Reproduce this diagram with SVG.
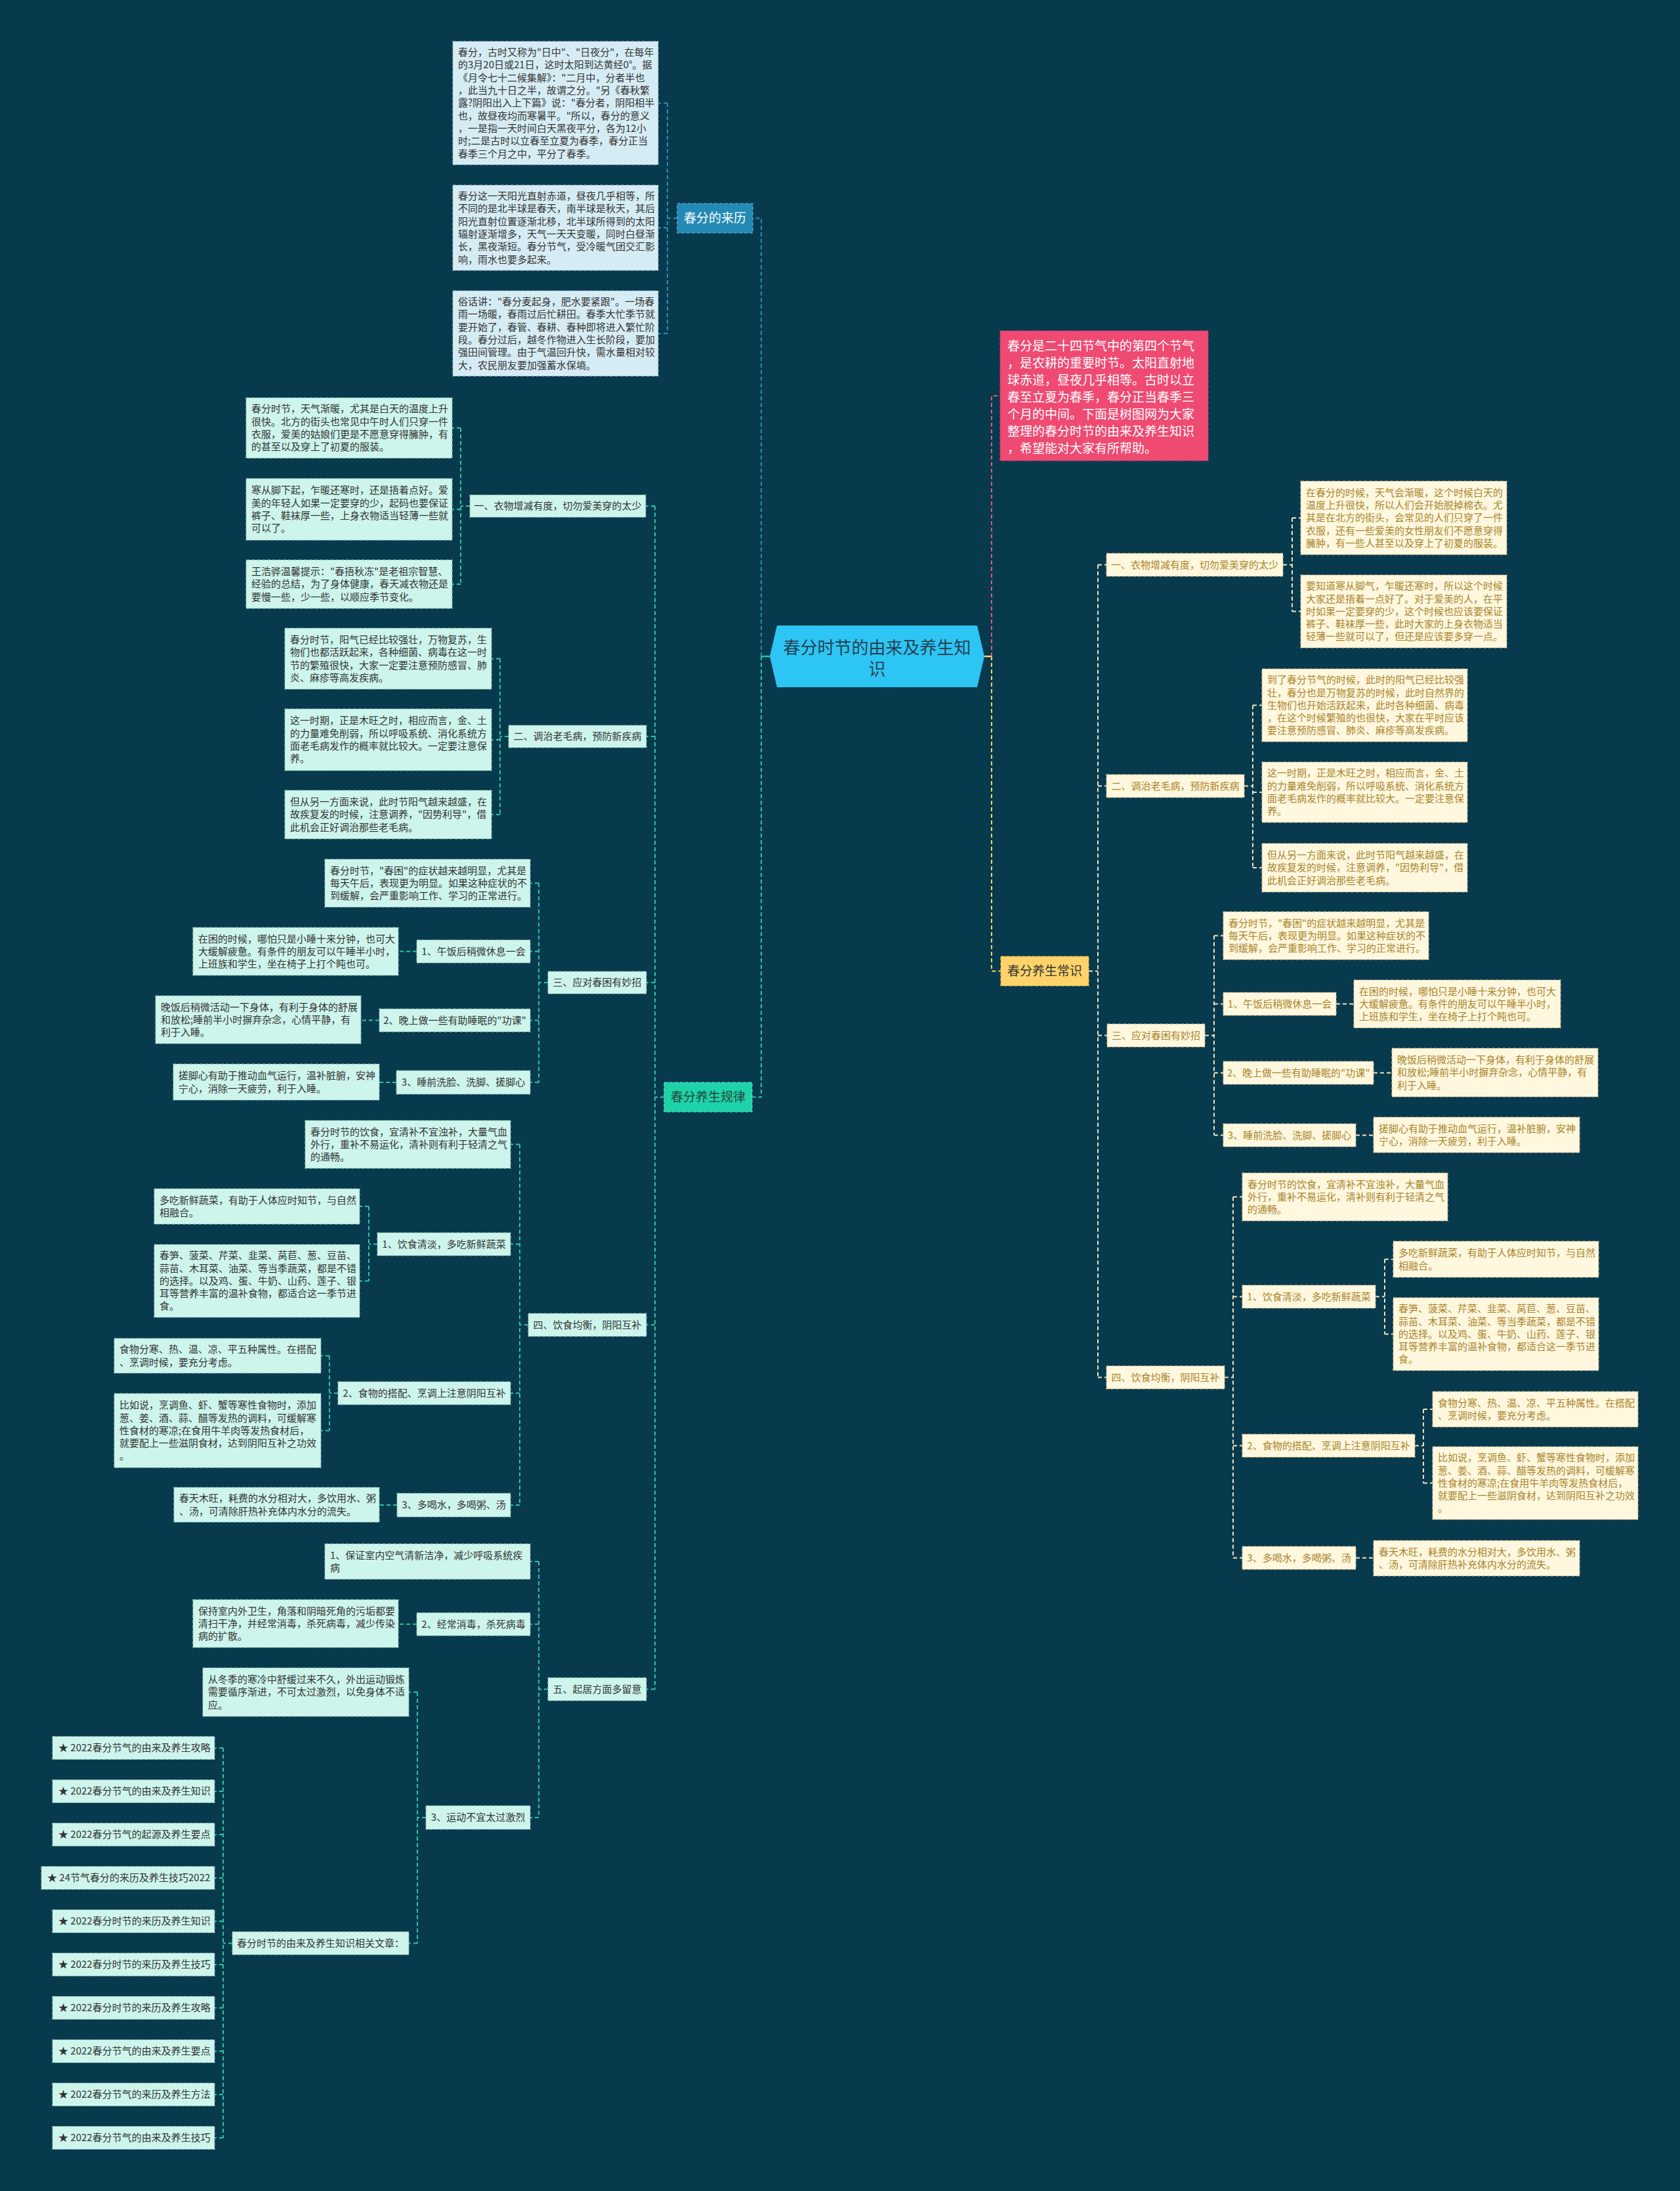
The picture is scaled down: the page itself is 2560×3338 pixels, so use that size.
<svg xmlns="http://www.w3.org/2000/svg" width="2560" height="3338" viewBox="0 0 2560 3338">
<style>
text{font-family:"Noto Sans CJK SC","Noto Sans",sans-serif;font-size:15px}
.dk{fill:#333333}
.gd{fill:#A8842C}
.bl{fill:#D6ECF4;stroke:#93b3bf;stroke-width:1.2;stroke-dasharray:5 3}
.mt{fill:#CDF5EC;stroke:#8cb8ad;stroke-width:1.2;stroke-dasharray:5 3}
.cr{fill:#FFF7DE;stroke:#cbb98a;stroke-width:1.2;stroke-dasharray:5 3}
.mid{text-anchor:middle}
.cb{fill:none;stroke:#2A8DBA;stroke-width:2;stroke-dasharray:6 4}
.cg{fill:none;stroke:#2BC6A2;stroke-width:2;stroke-dasharray:6 4}
.cy{fill:none;stroke:#F1E4BE;stroke-width:2;stroke-dasharray:6 4}
.cp{fill:none;stroke:#E05A82;stroke-width:2;stroke-dasharray:6 4}
.cyy{fill:none;stroke:#FFD36A;stroke-width:2;stroke-dasharray:6 4}
</style>
<rect x="0" y="0" width="2560" height="3338" fill="#083A4E"/>

<g id="connectors">
<path d="M1173 1000 H1160" fill="none" stroke="#2BC6A2" stroke-width="2.5"/>
<path class="cb" d="M1160 1000 V332.5 H1147"/>
<path class="cg" d="M1160 1000 V1671.5 H1146"/>
<path d="M1500 1000 H1511" fill="none" stroke="#FFD36A" stroke-width="2.5"/>
<path class="cp" d="M1511 1000 V603 H1524"/>
<path class="cyy" d="M1511 1000 V1479.5 H1525"/>
<path class="cb" d="M1032 332.5 H1017 M1017 157 V508 M1017 157 H1003 M1017 347 H1003 M1017 508 H1003"/>
<path class="cg" d="M1012 1671.5 H998 M998 771 V2573.5 M998 771 H984 M998 1122 H985 M998 1497 H985 M998 2018.5 H985 M998 2573.5 H985"/>
<path class="cg" d="M716 771 H702 M702 652 V890 M702 652 H689 M702 776 H689 M702 890 H689"/>
<path class="cg" d="M775 1122 H762 M762 1003.5 V1241 M762 1003.5 H749 M762 1127 H749 M762 1241 H749"/>
<path class="cg" d="M835 1497 H821 M821 1345.5 V1649 M821 1345.5 H808 M821 1449.5 H808 M821 1554.5 H808 M821 1649 H808 M635 1449.5 H607 M578 1554.5 H550 M604 1649 H578"/>
<path class="cg" d="M805 2018.5 H792 M792 1743.5 V2293 M792 1743.5 H778 M792 1895.5 H778 M792 2122.5 H778 M792 2293 H778 M575 1895.5 H562 M562 1838 V1951.5 M562 1838 H548 M562 1951.5 H548 M515 2122.5 H502 M502 2065.5 V2179.5 M502 2065.5 H489 M502 2179.5 H489 M605 2293 H578"/>
<path class="cg" d="M835 2573.5 H821 M821 2379 V2769 M821 2379 H808 M821 2474.5 H808 M821 2769 H808 M635 2474.5 H607 M649 2769 H636 M636 2578 V2960.5 M636 2578 H623 M636 2960.5 H623"/>
<path class="cg" d="M354 2960.5 H340 M340 2663 V3257 M340 2663 H327 M340 2729 H327 M340 2795 H327 M340 2861 H327 M340 2927 H327 M340 2993 H327 M340 3059 H327 M340 3125 H327 M340 3191 H327 M340 3257 H327"/>
<path class="cy" d="M1659 1479.5 H1673 M1673 860.5 V2098.5 M1673 860.5 H1686 M1673 1197.5 H1686 M1673 1577.5 H1687 M1673 2098.5 H1686"/>
<path class="cy" d="M1955 860.5 H1969 M1969 789 V931.5 M1969 789 H1982 M1969 931.5 H1982"/>
<path class="cy" d="M1896 1197.5 H1909 M1909 1074.5 V1322 M1909 1074.5 H1923 M1909 1207 H1923 M1909 1322 H1923"/>
<path class="cy" d="M1836 1577.5 H1850 M1850 1425.5 V1729.5 M1850 1425.5 H1864 M1850 1529.5 H1864 M1850 1634.5 H1864 M1850 1729.5 H1864 M2036 1529.5 H2063 M2093 1634.5 H2121 M2066 1729.5 H2093"/>
<path class="cy" d="M1866 2098.5 H1879 M1879 1823.5 V2373.5 M1879 1823.5 H1893 M1879 1975.5 H1893 M1879 2202.5 H1893 M1879 2373.5 H1893 M2096 1975.5 H2110 M2110 1918.5 V2032.5 M2110 1918.5 H2123 M2110 2032.5 H2123 M2156 2202.5 H2169 M2169 2147 V2259.5 M2169 2147 H2183 M2169 2259.5 H2183 M2066 2373.5 H2093"/>
</g>

<g id="center">
<polygon points="1173,1000 1184,953 1489,953 1500,1000 1489,1047 1184,1047" fill="#2DC5F4"/>
<text class="mid" x="1336.5" y="996" style="font-size:26px" fill="#28404f">春分时节的由来及养生知</text>
<text class="mid" x="1336.5" y="1029" style="font-size:26px" fill="#28404f">识</text>
</g>

<g id="intro">
<rect x="1524" y="504" width="317" height="198" fill="#EE4A72" stroke="#c73a62" stroke-width="1.2" stroke-dasharray="5 3"/>
<text x="1535" y="534" style="font-size:19px" fill="#ffffff"><tspan x="1535">春分是二十四节气中的第四个节气</tspan><tspan x="1535" dy="26">，是农耕的重要时节。太阳直射地</tspan><tspan x="1535" dy="26">球赤道，昼夜几乎相等。古时以立</tspan><tspan x="1535" dy="26">春至立夏为春季，春分正当春季三</tspan><tspan x="1535" dy="26">个月的中间。下面是树图网为大家</tspan><tspan x="1535" dy="26">整理的春分时节的由来及养生知识</tspan><tspan x="1535" dy="26">，希望能对大家有所帮助。</tspan></text>
</g>

<g id="laili">
<rect x="1032" y="310" width="115" height="45" fill="#2389B5" stroke="#5fb0d3" stroke-width="1.2" stroke-dasharray="5 3"/>
<text class="mid" x="1089.5" y="339" style="font-size:19px" fill="#ffffff">春分的来历</text>
</g>
<g id="laili-1">
<rect class="bl" x="690" y="63" width="313" height="188"/>
<text class="dk" x="698" y="85.1"><tspan x="698">春分，古时又称为"日中"、"日夜分"，在每年</tspan><tspan x="698" dy="19.3">的3月20日或21日，这时太阳到达黄经0°。据</tspan><tspan x="698" dy="19.3">《月令七十二候集解》："二月中，分者半也</tspan><tspan x="698" dy="19.3">，此当九十日之半，故谓之分。"另《春秋繁</tspan><tspan x="698" dy="19.3">露?阴阳出入上下篇》说："春分者，阴阳相半</tspan><tspan x="698" dy="19.3">也，故昼夜均而寒暑平。"所以，春分的意义</tspan><tspan x="698" dy="19.3">，一是指一天时间白天黑夜平分，各为12小</tspan><tspan x="698" dy="19.3">时;二是古时以立春至立夏为春季，春分正当</tspan><tspan x="698" dy="19.3">春季三个月之中，平分了春季。</tspan></text>
</g>
<g id="laili-2">
<rect class="bl" x="690" y="282" width="313" height="130"/>
<text class="dk" x="698" y="304"><tspan x="698">春分这一天阳光直射赤道，昼夜几乎相等，所</tspan><tspan x="698" dy="19.3">不同的是北半球是春天，南半球是秋天，其后</tspan><tspan x="698" dy="19.3">阳光直射位置逐渐北移，北半球所得到的太阳</tspan><tspan x="698" dy="19.3">辐射逐渐增多，天气一天天变暖，同时白昼渐</tspan><tspan x="698" dy="19.3">长，黑夜渐短。春分节气，受冷暖气团交汇影</tspan><tspan x="698" dy="19.3">响，雨水也要多起来。</tspan></text>
</g>
<g id="laili-3">
<rect class="bl" x="690" y="443" width="313" height="130"/>
<text class="dk" x="698" y="465"><tspan x="698">俗话讲："春分麦起身，肥水要紧跟"。一场春</tspan><tspan x="698" dy="19.3">雨一场暖，春雨过后忙耕田。春季大忙季节就</tspan><tspan x="698" dy="19.3">要开始了，春管、春耕、春种即将进入繁忙阶</tspan><tspan x="698" dy="19.3">段。春分过后，越冬作物进入生长阶段，要加</tspan><tspan x="698" dy="19.3">强田间管理。由于气温回升快，需水量相对较</tspan><tspan x="698" dy="19.3">大，农民朋友要加强蓄水保墒。</tspan></text>
</g>

<g id="guilv">
<rect x="1012" y="1649" width="134" height="45" fill="#1DD3A7" stroke="#5be3c2" stroke-width="1.2" stroke-dasharray="5 3"/>
<text class="mid" x="1079" y="1678" style="font-size:19px" fill="#24453f">春分养生规律</text>
</g>

<g id="L1">
<rect class="mt" x="716" y="754" width="268" height="34"/>
<text class="dk mid" x="850" y="776.3">一、衣物增减有度，切勿爱美穿的太少</text>
</g>
<g id="L1-1">
<rect class="mt" x="375" y="606" width="314" height="92"/>
<text class="dk" x="383" y="628.4"><tspan x="383">春分时节，天气渐暖，尤其是白天的温度上升</tspan><tspan x="383" dy="19.3">很快。北方的街头也常见中午时人们只穿一件</tspan><tspan x="383" dy="19.3">衣服，爱美的姑娘们更是不愿意穿得臃肿，有</tspan><tspan x="383" dy="19.3">的甚至以及穿上了初夏的服装。</tspan></text>
</g>
<g id="L1-2">
<rect class="mt" x="375" y="729" width="314" height="94"/>
<text class="dk" x="383" y="752.4"><tspan x="383">寒从脚下起，乍暖还寒时，还是捂着点好。爱</tspan><tspan x="383" dy="19.3">美的年轻人如果一定要穿的少，起码也要保证</tspan><tspan x="383" dy="19.3">裤子、鞋袜厚一些，上身衣物适当轻薄一些就</tspan><tspan x="383" dy="19.3">可以了。</tspan></text>
</g>
<g id="L1-3">
<rect class="mt" x="375" y="853" width="314" height="74"/>
<text class="dk" x="383" y="876"><tspan x="383">王浩骅温馨提示："春捂秋冻"是老祖宗智慧、</tspan><tspan x="383" dy="19.3">经验的总结，为了身体健康，春天减衣物还是</tspan><tspan x="383" dy="19.3">要慢一些，少一些，以顺应季节变化。</tspan></text>
</g>

<g id="L2">
<rect class="mt" x="775" y="1105" width="210" height="34"/>
<text class="dk mid" x="880" y="1127.3">二、调治老毛病，预防新疾病</text>
</g>
<g id="L2-1">
<rect class="mt" x="434" y="957" width="315" height="93"/>
<text class="dk" x="442" y="979.9"><tspan x="442">春分时节，阳气已经比较强壮，万物复苏，生</tspan><tspan x="442" dy="19.3">物们也都活跃起来，各种细菌、病毒在这一时</tspan><tspan x="442" dy="19.3">节的繁殖很快，大家一定要注意预防感冒、肺</tspan><tspan x="442" dy="19.3">炎、麻疹等高发疾病。</tspan></text>
</g>
<g id="L2-2">
<rect class="mt" x="434" y="1080" width="315" height="94"/>
<text class="dk" x="442" y="1103.4"><tspan x="442">这一时期，正是木旺之时，相应而言，金、土</tspan><tspan x="442" dy="19.3">的力量难免削弱，所以呼吸系统、消化系统方</tspan><tspan x="442" dy="19.3">面老毛病发作的概率就比较大。一定要注意保</tspan><tspan x="442" dy="19.3">养。</tspan></text>
</g>
<g id="L2-3">
<rect class="mt" x="434" y="1204" width="315" height="74"/>
<text class="dk" x="442" y="1227"><tspan x="442">但从另一方面来说，此时节阳气越来越盛，在</tspan><tspan x="442" dy="19.3">故疾复发的时候，注意调养，"因势利导"，借</tspan><tspan x="442" dy="19.3">此机会正好调治那些老毛病。</tspan></text>
</g>

<g id="L3">
<rect class="mt" x="835" y="1480" width="150" height="34"/>
<text class="dk mid" x="910" y="1502.3">三、应对春困有妙招</text>
</g>
<g id="L3-0">
<rect class="mt" x="495" y="1309" width="313" height="73"/>
<text class="dk" x="503" y="1331.5"><tspan x="503">春分时节，"春困"的症状越来越明显，尤其是</tspan><tspan x="503" dy="19.3">每天午后，表现更为明显。如果这种症状的不</tspan><tspan x="503" dy="19.3">到缓解，会严重影响工作、学习的正常进行。</tspan></text>
</g>
<g id="L3-1">
<rect class="mt" x="635" y="1432" width="173" height="35"/>
<text class="dk mid" x="721.5" y="1454.8">1、午饭后稍微休息一会</text>
</g>
<g id="L3-1a">
<rect class="mt" x="294" y="1413" width="313" height="73"/>
<text class="dk" x="302" y="1435.5"><tspan x="302">在困的时候，哪怕只是小睡十来分钟，也可大</tspan><tspan x="302" dy="19.3">大缓解疲惫。有条件的朋友可以午睡半小时，</tspan><tspan x="302" dy="19.3">上班族和学生，坐在椅子上打个盹也可。</tspan></text>
</g>
<g id="L3-2">
<rect class="mt" x="578" y="1537" width="230" height="35"/>
<text class="dk mid" x="693" y="1559.8">2、晚上做一些有助睡眠的"功课"</text>
</g>
<g id="L3-2a">
<rect class="mt" x="237" y="1517" width="313" height="73"/>
<text class="dk" x="245" y="1539.5"><tspan x="245">晚饭后稍微活动一下身体，有利于身体的舒展</tspan><tspan x="245" dy="19.3">和放松;睡前半小时摒弃杂念，心情平静，有</tspan><tspan x="245" dy="19.3">利于入睡。</tspan></text>
</g>
<g id="L3-3">
<rect class="mt" x="604" y="1631" width="204" height="36"/>
<text class="dk mid" x="706" y="1654.3">3、睡前洗脸、洗脚、搓脚心</text>
</g>
<g id="L3-3a">
<rect class="mt" x="264" y="1621" width="314" height="55"/>
<text class="dk" x="272" y="1644.2"><tspan x="272">搓脚心有助于推动血气运行，温补脏腑，安神</tspan><tspan x="272" dy="19.3">宁心，消除一天疲劳，利于入睡。</tspan></text>
</g>

<g id="L4">
<rect class="mt" x="805" y="2001" width="180" height="35"/>
<text class="dk mid" x="895" y="2023.8">四、饮食均衡，阴阳互补</text>
</g>
<g id="L4-0">
<rect class="mt" x="465" y="1707" width="313" height="73"/>
<text class="dk" x="473" y="1729.5"><tspan x="473">春分时节的饮食，宜清补不宜浊补，大量气血</tspan><tspan x="473" dy="19.3">外行，重补不易运化，清补则有利于轻清之气</tspan><tspan x="473" dy="19.3">的通畅。</tspan></text>
</g>
<g id="L4-1">
<rect class="mt" x="575" y="1878" width="203" height="35"/>
<text class="dk mid" x="676.5" y="1900.8">1、饮食清淡，多吃新鲜蔬菜</text>
</g>
<g id="L4-1a">
<rect class="mt" x="235" y="1811" width="313" height="54"/>
<text class="dk" x="243" y="1833.7"><tspan x="243">多吃新鲜蔬菜，有助于人体应时知节，与自然</tspan><tspan x="243" dy="19.3">相融合。</tspan></text>
</g>
<g id="L4-1b">
<rect class="mt" x="235" y="1896" width="313" height="111"/>
<text class="dk" x="243" y="1918.2"><tspan x="243">春笋、菠菜、芹菜、韭菜、莴苣、葱、豆苗、</tspan><tspan x="243" dy="19.3">蒜苗、木耳菜、油菜、等当季蔬菜，都是不错</tspan><tspan x="243" dy="19.3">的选择。以及鸡、蛋、牛奶、山药、莲子、银</tspan><tspan x="243" dy="19.3">耳等营养丰富的温补食物，都适合这一季节进</tspan><tspan x="243" dy="19.3">食。</tspan></text>
</g>
<g id="L4-2">
<rect class="mt" x="515" y="2105" width="263" height="35"/>
<text class="dk mid" x="646.5" y="2127.8">2、食物的搭配、烹调上注意阴阳互补</text>
</g>
<g id="L4-2a">
<rect class="mt" x="174" y="2039" width="315" height="53"/>
<text class="dk" x="182" y="2061.2"><tspan x="182">食物分寒、热、温、凉、平五种属性。在搭配</tspan><tspan x="182" dy="19.3">、烹调时候，要充分考虑。</tspan></text>
</g>
<g id="L4-2b">
<rect class="mt" x="174" y="2123" width="315" height="113"/>
<text class="dk" x="182" y="2146.2"><tspan x="182">比如说，烹调鱼、虾、蟹等寒性食物时，添加</tspan><tspan x="182" dy="19.3">葱、姜、酒、蒜、醋等发热的调料，可缓解寒</tspan><tspan x="182" dy="19.3">性食材的寒凉;在食用牛羊肉等发热食材后，</tspan><tspan x="182" dy="19.3">就要配上一些滋阴食材，达到阴阳互补之功效</tspan><tspan x="182" dy="19.3">。</tspan></text>
</g>
<g id="L4-3">
<rect class="mt" x="605" y="2275" width="173" height="36"/>
<text class="dk mid" x="691.5" y="2298.3">3、多喝水，多喝粥、汤</text>
</g>
<g id="L4-3a">
<rect class="mt" x="265" y="2266" width="313" height="53"/>
<text class="dk" x="273" y="2288.2"><tspan x="273">春天木旺，耗费的水分相对大，多饮用水、粥</tspan><tspan x="273" dy="19.3">、汤，可清除肝热补充体内水分的流失。</tspan></text>
</g>

<g id="L5">
<rect class="mt" x="835" y="2556" width="150" height="35"/>
<text class="dk mid" x="910" y="2578.8">五、起居方面多留意</text>
</g>
<g id="L5-1">
<rect class="mt" x="495" y="2352" width="313" height="54"/>
<text class="dk" x="503" y="2374.7"><tspan x="503">1、保证室内空气清新洁净，减少呼吸系统疾</tspan><tspan x="503" dy="19.3">病</tspan></text>
</g>
<g id="L5-2">
<rect class="mt" x="635" y="2457" width="173" height="35"/>
<text class="dk mid" x="721.5" y="2479.8">2、经常消毒，杀死病毒</text>
</g>
<g id="L5-2a">
<rect class="mt" x="294" y="2437" width="313" height="73"/>
<text class="dk" x="302" y="2459.5"><tspan x="302">保持室内外卫生，角落和阴暗死角的污垢都要</tspan><tspan x="302" dy="19.3">清扫干净，并经常消毒，杀死病毒，减少传染</tspan><tspan x="302" dy="19.3">病的扩散。</tspan></text>
</g>
<g id="L5-3">
<rect class="mt" x="649" y="2751" width="159" height="36"/>
<text class="dk mid" x="728.5" y="2774.3">3、运动不宜太过激烈</text>
</g>
<g id="L5-3a">
<rect class="mt" x="309" y="2541" width="314" height="74"/>
<text class="dk" x="317" y="2564"><tspan x="317">从冬季的寒冷中舒缓过来不久，外出运动锻炼</tspan><tspan x="317" dy="19.3">需要循序渐进，不可太过激烈，以免身体不适</tspan><tspan x="317" dy="19.3">应。</tspan></text>
</g>
<g id="related">
<rect class="mt" x="354" y="2943" width="269" height="35"/>
<text class="dk mid" x="488.5" y="2965.8">春分时节的由来及养生知识相关文章：</text>
</g>
<g id="rel-1"><rect class="mt" x="80" y="2645.5" width="247" height="35"/><text class="dk" x="89" y="2668.3">★ 2022春分节气的由来及养生攻略</text></g>
<g id="rel-2"><rect class="mt" x="80" y="2711.5" width="247" height="35"/><text class="dk" x="89" y="2734.3">★ 2022春分节气的由来及养生知识</text></g>
<g id="rel-3"><rect class="mt" x="80" y="2777.5" width="247" height="35"/><text class="dk" x="89" y="2800.3">★ 2022春分节气的起源及养生要点</text></g>
<g id="rel-4"><rect class="mt" x="63" y="2843.5" width="264" height="35"/><text class="dk" x="72" y="2866.3">★ 24节气春分的来历及养生技巧2022</text></g>
<g id="rel-5"><rect class="mt" x="80" y="2909.5" width="247" height="35"/><text class="dk" x="89" y="2932.3">★ 2022春分时节的来历及养生知识</text></g>
<g id="rel-6"><rect class="mt" x="80" y="2975.5" width="247" height="35"/><text class="dk" x="89" y="2998.3">★ 2022春分时节的来历及养生技巧</text></g>
<g id="rel-7"><rect class="mt" x="80" y="3041.5" width="247" height="35"/><text class="dk" x="89" y="3064.3">★ 2022春分时节的来历及养生攻略</text></g>
<g id="rel-8"><rect class="mt" x="80" y="3107.5" width="247" height="35"/><text class="dk" x="89" y="3130.3">★ 2022春分节气的由来及养生要点</text></g>
<g id="rel-9"><rect class="mt" x="80" y="3173.5" width="247" height="35"/><text class="dk" x="89" y="3196.3">★ 2022春分节气的来历及养生方法</text></g>
<g id="rel-10"><rect class="mt" x="80" y="3239.5" width="247" height="35"/><text class="dk" x="89" y="3262.3">★ 2022春分节气的由来及养生技巧</text></g>

<g id="changshi">
<rect x="1525" y="1457" width="134" height="45" fill="#FFD36A" stroke="#e2b54c" stroke-width="1.2" stroke-dasharray="5 3"/>
<text class="mid" x="1592" y="1486" style="font-size:19px" fill="#333333">春分养生常识</text>
</g>

<g id="R1">
<rect class="cr" x="1686" y="843" width="269" height="35"/>
<text class="gd mid" x="1820.5" y="865.8">一、衣物增减有度，切勿爱美穿的太少</text>
</g>
<g id="R1-1">
<rect class="cr" x="1982" y="733" width="314" height="112"/>
<text class="gd" x="1990" y="755.7"><tspan x="1990">在春分的时候，天气会渐暖，这个时候白天的</tspan><tspan x="1990" dy="19.3">温度上升很快，所以人们会开始脱掉棉衣。尤</tspan><tspan x="1990" dy="19.3">其是在北方的街头，会常见的人们只穿了一件</tspan><tspan x="1990" dy="19.3">衣服，还有一些爱美的女性朋友们不愿意穿得</tspan><tspan x="1990" dy="19.3">臃肿，有一些人甚至以及穿上了初夏的服装。</tspan></text>
</g>
<g id="R1-2">
<rect class="cr" x="1982" y="876" width="314" height="111"/>
<text class="gd" x="1990" y="898.2"><tspan x="1990">要知道寒从脚气，乍暖还寒时，所以这个时候</tspan><tspan x="1990" dy="19.3">大家还是捂着一点好了。对于爱美的人，在平</tspan><tspan x="1990" dy="19.3">时如果一定要穿的少，这个时候也应该要保证</tspan><tspan x="1990" dy="19.3">裤子、鞋袜厚一些，此时大家的上身衣物适当</tspan><tspan x="1990" dy="19.3">轻薄一些就可以了，但还是应该要多穿一点。</tspan></text>
</g>

<g id="R2">
<rect class="cr" x="1686" y="1180" width="210" height="35"/>
<text class="gd mid" x="1791" y="1202.8">二、调治老毛病，预防新疾病</text>
</g>
<g id="R2-1">
<rect class="cr" x="1923" y="1019" width="313" height="111"/>
<text class="gd" x="1931" y="1041.2"><tspan x="1931">到了春分节气的时候，此时的阳气已经比较强</tspan><tspan x="1931" dy="19.3">壮，春分也是万物复苏的时候，此时自然界的</tspan><tspan x="1931" dy="19.3">生物们也开始活跃起来，此时各种细菌、病毒</tspan><tspan x="1931" dy="19.3">，在这个时候繁殖的也很快，大家在平时应该</tspan><tspan x="1931" dy="19.3">要注意预防感冒、肺炎、麻疹等高发疾病。</tspan></text>
</g>
<g id="R2-2">
<rect class="cr" x="1923" y="1161" width="313" height="92"/>
<text class="gd" x="1931" y="1183.4"><tspan x="1931">这一时期，正是木旺之时，相应而言，金、土</tspan><tspan x="1931" dy="19.3">的力量难免削弱，所以呼吸系统、消化系统方</tspan><tspan x="1931" dy="19.3">面老毛病发作的概率就比较大。一定要注意保</tspan><tspan x="1931" dy="19.3">养。</tspan></text>
</g>
<g id="R2-3">
<rect class="cr" x="1923" y="1285" width="313" height="74"/>
<text class="gd" x="1931" y="1308"><tspan x="1931">但从另一方面来说，此时节阳气越来越盛，在</tspan><tspan x="1931" dy="19.3">故疾复发的时候，注意调养，"因势利导"，借</tspan><tspan x="1931" dy="19.3">此机会正好调治那些老毛病。</tspan></text>
</g>

<g id="R3">
<rect class="cr" x="1687" y="1560" width="149" height="35"/>
<text class="gd mid" x="1761.5" y="1582.8">三、应对春困有妙招</text>
</g>
<g id="R3-0">
<rect class="cr" x="1864" y="1389" width="313" height="73"/>
<text class="gd" x="1872" y="1411.5"><tspan x="1872">春分时节，"春困"的症状越来越明显，尤其是</tspan><tspan x="1872" dy="19.3">每天午后，表现更为明显。如果这种症状的不</tspan><tspan x="1872" dy="19.3">到缓解，会严重影响工作、学习的正常进行。</tspan></text>
</g>
<g id="R3-1">
<rect class="cr" x="1864" y="1512" width="172" height="35"/>
<text class="gd mid" x="1950" y="1534.8">1、午饭后稍微休息一会</text>
</g>
<g id="R3-1a">
<rect class="cr" x="2063" y="1493" width="315" height="73"/>
<text class="gd" x="2071" y="1515.5"><tspan x="2071">在困的时候，哪怕只是小睡十来分钟，也可大</tspan><tspan x="2071" dy="19.3">大缓解疲惫。有条件的朋友可以午睡半小时，</tspan><tspan x="2071" dy="19.3">上班族和学生，坐在椅子上打个盹也可。</tspan></text>
</g>
<g id="R3-2">
<rect class="cr" x="1864" y="1617" width="229" height="35"/>
<text class="gd mid" x="1978.5" y="1639.8">2、晚上做一些有助睡眠的"功课"</text>
</g>
<g id="R3-2a">
<rect class="cr" x="2121" y="1597" width="314" height="74"/>
<text class="gd" x="2129" y="1620"><tspan x="2129">晚饭后稍微活动一下身体，有利于身体的舒展</tspan><tspan x="2129" dy="19.3">和放松;睡前半小时摒弃杂念，心情平静，有</tspan><tspan x="2129" dy="19.3">利于入睡。</tspan></text>
</g>
<g id="R3-3">
<rect class="cr" x="1864" y="1712" width="202" height="35"/>
<text class="gd mid" x="1965" y="1734.8">3、睡前洗脸、洗脚、搓脚心</text>
</g>
<g id="R3-3a">
<rect class="cr" x="2093" y="1702" width="314" height="54"/>
<text class="gd" x="2101" y="1724.7"><tspan x="2101">搓脚心有助于推动血气运行，温补脏腑，安神</tspan><tspan x="2101" dy="19.3">宁心，消除一天疲劳，利于入睡。</tspan></text>
</g>

<g id="R4">
<rect class="cr" x="1686" y="2081" width="180" height="35"/>
<text class="gd mid" x="1776" y="2103.8">四、饮食均衡，阴阳互补</text>
</g>
<g id="R4-0">
<rect class="cr" x="1893" y="1787" width="313" height="73"/>
<text class="gd" x="1901" y="1809.5"><tspan x="1901">春分时节的饮食，宜清补不宜浊补，大量气血</tspan><tspan x="1901" dy="19.3">外行，重补不易运化，清补则有利于轻清之气</tspan><tspan x="1901" dy="19.3">的通畅。</tspan></text>
</g>
<g id="R4-1">
<rect class="cr" x="1893" y="1958" width="203" height="35"/>
<text class="gd mid" x="1994.5" y="1980.8">1、饮食清淡，多吃新鲜蔬菜</text>
</g>
<g id="R4-1a">
<rect class="cr" x="2123" y="1891" width="313" height="55"/>
<text class="gd" x="2131" y="1914.2"><tspan x="2131">多吃新鲜蔬菜，有助于人体应时知节，与自然</tspan><tspan x="2131" dy="19.3">相融合。</tspan></text>
</g>
<g id="R4-1b">
<rect class="cr" x="2123" y="1977" width="313" height="111"/>
<text class="gd" x="2131" y="1999.2"><tspan x="2131">春笋、菠菜、芹菜、韭菜、莴苣、葱、豆苗、</tspan><tspan x="2131" dy="19.3">蒜苗、木耳菜、油菜、等当季蔬菜，都是不错</tspan><tspan x="2131" dy="19.3">的选择。以及鸡、蛋、牛奶、山药、莲子、银</tspan><tspan x="2131" dy="19.3">耳等营养丰富的温补食物，都适合这一季节进</tspan><tspan x="2131" dy="19.3">食。</tspan></text>
</g>
<g id="R4-2">
<rect class="cr" x="1893" y="2185" width="263" height="35"/>
<text class="gd mid" x="2024.5" y="2207.8">2、食物的搭配、烹调上注意阴阳互补</text>
</g>
<g id="R4-2a">
<rect class="cr" x="2183" y="2120" width="313" height="54"/>
<text class="gd" x="2191" y="2142.7"><tspan x="2191">食物分寒、热、温、凉、平五种属性。在搭配</tspan><tspan x="2191" dy="19.3">、烹调时候，要充分考虑。</tspan></text>
</g>
<g id="R4-2b">
<rect class="cr" x="2183" y="2204" width="313" height="111"/>
<text class="gd" x="2191" y="2226.2"><tspan x="2191">比如说，烹调鱼、虾、蟹等寒性食物时，添加</tspan><tspan x="2191" dy="19.3">葱、姜、酒、蒜、醋等发热的调料，可缓解寒</tspan><tspan x="2191" dy="19.3">性食材的寒凉;在食用牛羊肉等发热食材后，</tspan><tspan x="2191" dy="19.3">就要配上一些滋阴食材，达到阴阳互补之功效</tspan><tspan x="2191" dy="19.3">。</tspan></text>
</g>
<g id="R4-3">
<rect class="cr" x="1893" y="2356" width="173" height="35"/>
<text class="gd mid" x="1979.5" y="2378.8">3、多喝水，多喝粥、汤</text>
</g>
<g id="R4-3a">
<rect class="cr" x="2093" y="2347" width="314" height="54"/>
<text class="gd" x="2101" y="2369.7"><tspan x="2101">春天木旺，耗费的水分相对大，多饮用水、粥</tspan><tspan x="2101" dy="19.3">、汤，可清除肝热补充体内水分的流失。</tspan></text>
</g>
</svg>
